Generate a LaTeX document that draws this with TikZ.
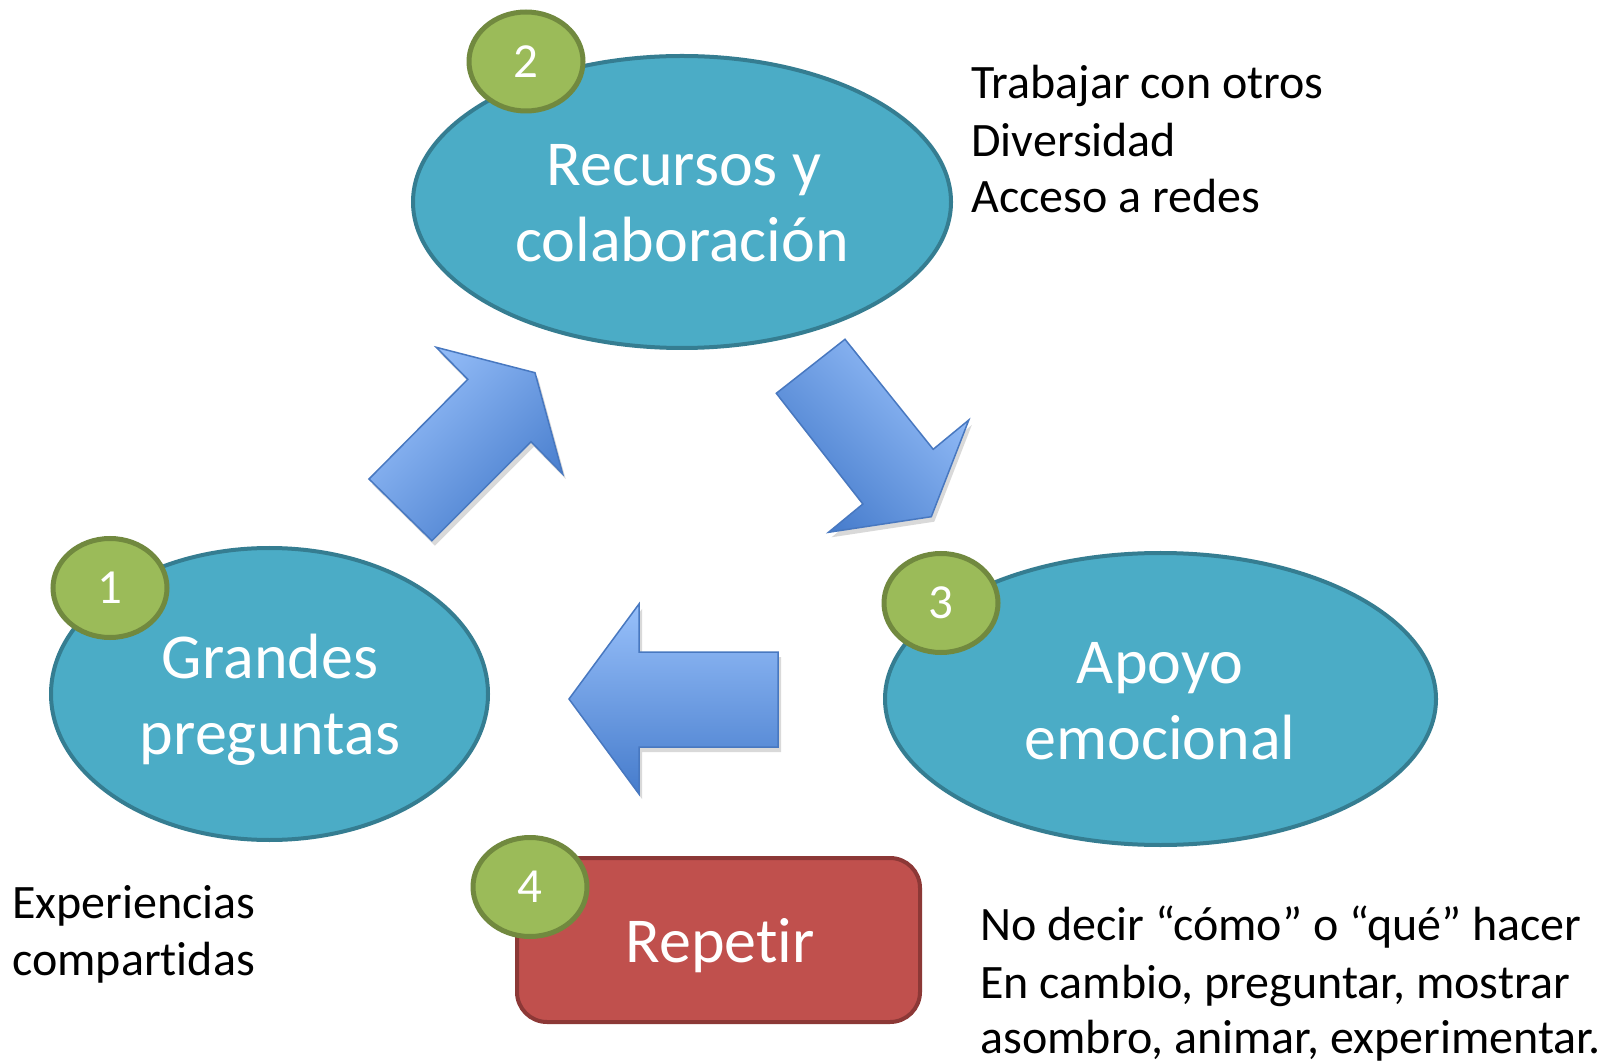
\documentclass[tikz,border=0pt]{standalone}
\usepackage{fontspec}
\setmainfont{Carlito}[Ligatures=NoCommon]
\usetikzlibrary{shapes.geometric}
\definecolor{ellfill}{RGB}{75,172,198}
\definecolor{elldraw}{RGB}{53,125,145}
\definecolor{badgefill}{RGB}{155,187,89}
\definecolor{badgedraw}{RGB}{113,137,63}
\definecolor{repfill}{RGB}{192,80,77}
\definecolor{repdraw}{RGB}{140,56,54}
\definecolor{arrowlight}{RGB}{152,192,250}
\definecolor{arrowdark}{RGB}{70,124,204}
\definecolor{arrowdraw}{RGB}{72,120,192}
\newcommand\shapeUR{(369,479) -- (467.8,379.3) -- (436.2,347.3) -- (535,372.7) -- (562.7,474) -- (531,441.7) -- (431.9,540.7) -- cycle}
\newcommand\shapeDR{(776.3,393.3) -- (845,339.3) -- (933.2,449.3) -- (968.8,420) -- (931.3,516.7) -- (828.5,532.3) -- (862.9,504) -- cycle}
\newcommand\shapeL{(569,699) -- (639,604) -- (639,652) -- (778,652) -- (778,747) -- (639,747) -- (639,794) -- cycle}
\begin{document}
\begin{tikzpicture}[x=0.5pt,y=-0.5pt,
  ell/.style={ellipse, draw=elldraw, line width=2pt, fill=ellfill, inner sep=0pt, minimum height=146pt},
  badge/.style={ellipse, draw=badgedraw, line width=2.5pt, fill=badgefill, inner sep=0pt,
    minimum width=57pt, minimum height=49.5pt, text=white, font=\fontsize{24.5}{29}\selectfont},
  bigtxt/.style={text=white, font=\fontsize{32}{38}\selectfont, inner sep=0pt, anchor=base},
  sidetxt/.style={text=black, font=\fontsize{24}{29}\selectfont, inner sep=0pt, anchor=base west},
  blockarrow/.style={draw=arrowdraw, line width=0.75pt, top color=arrowlight, bottom color=arrowdark},
  arrowshadow/.style={fill=black, opacity=0.15},
  repbox/.style={draw=repdraw, line width=2pt, fill=repfill, rounded corners=15pt, inner sep=0pt,
    minimum width=201.5pt, minimum height=82pt}]
\useasboundingbox (0,0) rectangle (1606,1063);
\fill[white] (0,0) rectangle (1606,1063);

% block arrows (shadows first)
\begin{scope}[shift={(3,5)}]
  \fill[arrowshadow] \shapeUR;
  \fill[arrowshadow] \shapeDR;
  \fill[arrowshadow] \shapeL;
\end{scope}
\path[blockarrow, shading angle=45] \shapeUR;
\path[blockarrow, shading angle=-45] \shapeDR;
\path[blockarrow] \shapeL;

% main shapes
\node[ell, minimum width=269pt] (e2) at (682,202) {};
\node[ell, minimum width=218.5pt] (e1) at (269.5,694) {};
\node[ell, minimum width=275.5pt] (e3) at (1160.5,699) {};
\node[repbox] (rep) at (718.5,940) {};

% texts in shapes
\node[bigtxt] (t2a) at (684,186) {Recursos y};
\node[bigtxt] (t2b) at (682,262) {colaboración};
\node[bigtxt] (t1a) at (270,678) {Grandes};
\node[bigtxt] (t1b) at (270,754) {preguntas};
\node[bigtxt] (t3a) at (1160,683) {Apoyo};
\node[bigtxt] (t3b) at (1160,759) {emocional};
\node[bigtxt] (trep) at (720,962) {Repetir};

% badges
\node[badge] (b1) at (110,588) {1};
\node[badge] (b2) at (526,61.5) {2};
\node[badge] (b3) at (941,603) {3};
\node[badge] (b4) at (530,887) {4};

% side texts
\node[sidetxt] (s2a) at (971,99) {Trabajar con otros};
\node[sidetxt] (s2b) at (971,157) {Diversidad};
\node[sidetxt] (s2c) at (971,213) {Acceso a redes};
\node[sidetxt] (s1a) at (12,918) {Experiencias};
\node[sidetxt] (s1b) at (12,975) {compartidas};
\node[sidetxt] (s3a) at (980,940) {No decir “cómo” o “qué” hacer};
\node[sidetxt] (s3b) at (980,998) {En cambio, preguntar, mostrar};
\node[sidetxt] (s3c) at (980,1053) {asombro, animar, experimentar.};
\end{tikzpicture}
\end{document}
